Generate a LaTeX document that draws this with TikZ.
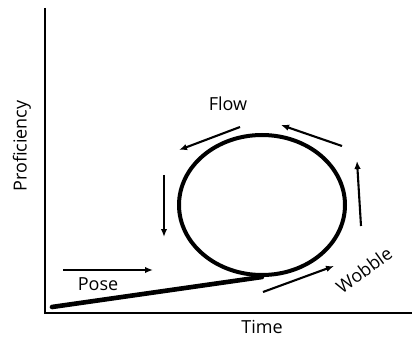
\documentclass[tikz,border=0pt]{standalone}
\usepackage{fontspec}
\setmainfont{Open Sans}
\usetikzlibrary{positioning,shapes.geometric,arrows.meta}

\begin{document}
\begin{tikzpicture}[
    x=1pt, y=-1pt,
    >={Latex[length=8pt,width=6.5pt]},
    lbl/.style={font=\fontsize{18}{21}\selectfont},
    axis/.style={line width=2pt},
    arr/.style={->,line width=2.1pt},
    loopstyle/.style={draw,ellipse,line width=4pt,minimum width=166pt,minimum height=140pt,inner sep=0pt}
]
\useasboundingbox (0,0) rectangle (412,339);
% axes
\coordinate (orig) at (45,313);
\coordinate (ytop) at (45,8);
\coordinate (xend) at (412,313);
\draw[axis] (ytop) -- (orig) -- (xend);
\node[lbl,rotate=90] (prof) at (22,146) {Proficiency};
\node[lbl] (time) at (262,327) {Time};

% the loop
\node[loopstyle] (loop) at (262,205) {};
\coordinate (start) at (52,307);
\draw[line width=4.6pt,line cap=round] (start) -- (loop.south);

% labels
\node[lbl] (pose) at (98,284) {Pose};
\node[lbl] (flow) at (228,104) {Flow};
\node[lbl,rotate=36] (wobble) at (364,270) {Wobble};

% arrows
\coordinate (p1) at (63,270);  \coordinate (p2) at (153,270);
\coordinate (f1) at (240,127); \coordinate (f2) at (179,150);
\coordinate (f3) at (342,146); \coordinate (f4) at (281,125);
\coordinate (d1) at (164,175); \coordinate (d2) at (164,237);
\coordinate (u1) at (361,226); \coordinate (u2) at (357,161);
\coordinate (w1) at (263,292); \coordinate (w2) at (334,266);
\draw[arr] (p1) -- (p2);
\draw[arr] (f1) -- (f2);
\draw[arr] (f3) -- (f4);
\draw[arr] (d1) -- (d2);
\draw[arr] (u1) -- (u2);
\draw[arr] (w1) -- (w2);
\end{tikzpicture}
\end{document}
